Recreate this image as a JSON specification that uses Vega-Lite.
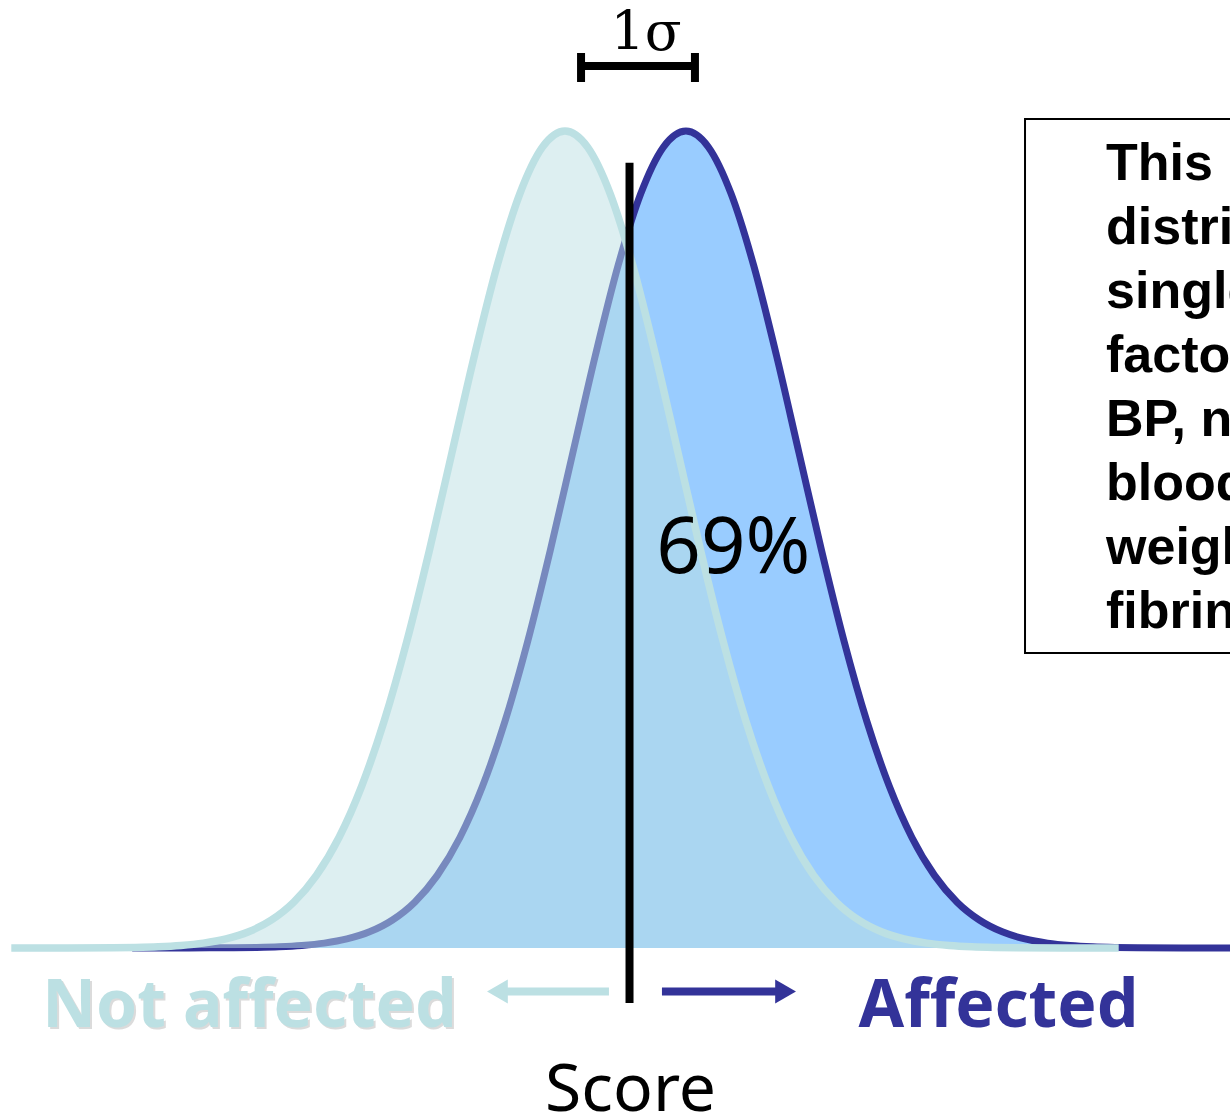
{
  "$schema": "https://vega.github.io/schema/vega-lite/v6.json",
  "autosize": {"type": "none"},
  "width": 1230,
  "height": 1117,
  "padding": 0,
  "background": "white",
  "config": {"view": {"stroke": null}},
  "datasets": {
    "curves": [
      {"group": "Not affected", "x": -4.9, "y": 0.0},
      {"group": "Not affected", "x": -4.4, "y": 0.0001},
      {"group": "Not affected", "x": -4.0, "y": 0.0003},
      {"group": "Not affected", "x": -3.8, "y": 0.0007},
      {"group": "Not affected", "x": -3.6, "y": 0.0015},
      {"group": "Not affected", "x": -3.4, "y": 0.0031},
      {"group": "Not affected", "x": -3.2, "y": 0.0060},
      {"group": "Not affected", "x": -3.0, "y": 0.0111},
      {"group": "Not affected", "x": -2.8, "y": 0.0198},
      {"group": "Not affected", "x": -2.6, "y": 0.0340},
      {"group": "Not affected", "x": -2.4, "y": 0.0561},
      {"group": "Not affected", "x": -2.2, "y": 0.0889},
      {"group": "Not affected", "x": -2.0, "y": 0.1353},
      {"group": "Not affected", "x": -1.8, "y": 0.1979},
      {"group": "Not affected", "x": -1.6, "y": 0.2780},
      {"group": "Not affected", "x": -1.4, "y": 0.3753},
      {"group": "Not affected", "x": -1.2, "y": 0.4868},
      {"group": "Not affected", "x": -1.0, "y": 0.6065},
      {"group": "Not affected", "x": -0.8, "y": 0.7261},
      {"group": "Not affected", "x": -0.6, "y": 0.8353},
      {"group": "Not affected", "x": -0.4, "y": 0.9231},
      {"group": "Not affected", "x": -0.2, "y": 0.9802},
      {"group": "Not affected", "x": 0.0, "y": 1.0},
      {"group": "Not affected", "x": 0.2, "y": 0.9802},
      {"group": "Not affected", "x": 0.4, "y": 0.9231},
      {"group": "Not affected", "x": 0.6, "y": 0.8353},
      {"group": "Not affected", "x": 0.8, "y": 0.7261},
      {"group": "Not affected", "x": 1.0, "y": 0.6065},
      {"group": "Not affected", "x": 1.2, "y": 0.4868},
      {"group": "Not affected", "x": 1.4, "y": 0.3753},
      {"group": "Not affected", "x": 1.6, "y": 0.2780},
      {"group": "Not affected", "x": 1.8, "y": 0.1979},
      {"group": "Not affected", "x": 2.0, "y": 0.1353},
      {"group": "Not affected", "x": 2.2, "y": 0.0889},
      {"group": "Not affected", "x": 2.4, "y": 0.0561},
      {"group": "Not affected", "x": 2.6, "y": 0.0340},
      {"group": "Not affected", "x": 2.8, "y": 0.0198},
      {"group": "Not affected", "x": 3.0, "y": 0.0111},
      {"group": "Not affected", "x": 3.2, "y": 0.0060},
      {"group": "Not affected", "x": 3.4, "y": 0.0031},
      {"group": "Not affected", "x": 3.6, "y": 0.0015},
      {"group": "Not affected", "x": 3.8, "y": 0.0007},
      {"group": "Not affected", "x": 4.0, "y": 0.0003},
      {"group": "Not affected", "x": 4.4, "y": 0.0001},
      {"group": "Not affected", "x": 4.9, "y": 0.0},
      {"group": "Affected", "x": -3.83, "y": 0.0},
      {"group": "Affected", "x": -3.33, "y": 0.0001},
      {"group": "Affected", "x": -2.93, "y": 0.0003},
      {"group": "Affected", "x": -2.73, "y": 0.0007},
      {"group": "Affected", "x": -2.53, "y": 0.0015},
      {"group": "Affected", "x": -2.33, "y": 0.0031},
      {"group": "Affected", "x": -2.13, "y": 0.0060},
      {"group": "Affected", "x": -1.93, "y": 0.0111},
      {"group": "Affected", "x": -1.73, "y": 0.0198},
      {"group": "Affected", "x": -1.53, "y": 0.0340},
      {"group": "Affected", "x": -1.33, "y": 0.0561},
      {"group": "Affected", "x": -1.13, "y": 0.0889},
      {"group": "Affected", "x": -0.93, "y": 0.1353},
      {"group": "Affected", "x": -0.73, "y": 0.1979},
      {"group": "Affected", "x": -0.53, "y": 0.2780},
      {"group": "Affected", "x": -0.33, "y": 0.3753},
      {"group": "Affected", "x": -0.13, "y": 0.4868},
      {"group": "Affected", "x": 0.07, "y": 0.6065},
      {"group": "Affected", "x": 0.27, "y": 0.7261},
      {"group": "Affected", "x": 0.47, "y": 0.8353},
      {"group": "Affected", "x": 0.67, "y": 0.9231},
      {"group": "Affected", "x": 0.87, "y": 0.9802},
      {"group": "Affected", "x": 1.07, "y": 1.0},
      {"group": "Affected", "x": 1.27, "y": 0.9802},
      {"group": "Affected", "x": 1.47, "y": 0.9231},
      {"group": "Affected", "x": 1.67, "y": 0.8353},
      {"group": "Affected", "x": 1.87, "y": 0.7261},
      {"group": "Affected", "x": 2.07, "y": 0.6065},
      {"group": "Affected", "x": 2.27, "y": 0.4868},
      {"group": "Affected", "x": 2.47, "y": 0.3753},
      {"group": "Affected", "x": 2.67, "y": 0.2780},
      {"group": "Affected", "x": 2.87, "y": 0.1979},
      {"group": "Affected", "x": 3.07, "y": 0.1353},
      {"group": "Affected", "x": 3.27, "y": 0.0889},
      {"group": "Affected", "x": 3.47, "y": 0.0561},
      {"group": "Affected", "x": 3.67, "y": 0.0340},
      {"group": "Affected", "x": 3.87, "y": 0.0198},
      {"group": "Affected", "x": 4.07, "y": 0.0111},
      {"group": "Affected", "x": 4.27, "y": 0.0060},
      {"group": "Affected", "x": 4.47, "y": 0.0031},
      {"group": "Affected", "x": 4.67, "y": 0.0015},
      {"group": "Affected", "x": 4.87, "y": 0.0007},
      {"group": "Affected", "x": 5.07, "y": 0.0003},
      {"group": "Affected", "x": 5.47, "y": 0.0001},
      {"group": "Affected", "x": 5.97, "y": 0.0}
    ],
    "one": [{}]
  },
  "layer": [
    {
      "data": {"name": "one"},
      "mark": {"type": "rect", "fill": "white", "stroke": "black", "strokeWidth": 2, "clip": true},
      "encoding": {
        "x": {"datum": 4.071, "type": "quantitative", "scale": {"domain": [-5.0, 5.885], "nice": false, "zero": false}, "axis": null},
        "x2": {"datum": 7.0},
        "y": {"datum": 1.0147, "type": "quantitative", "scale": {"domain": [-0.20685, 1.16034], "nice": false, "zero": false}, "axis": null},
        "y2": {"datum": 0.361}
      }
    },
    {
      "data": {"name": "one"},
      "mark": {"type": "text", "clip": true, "align": "left", "baseline": "alphabetic", "font": "Liberation Sans", "fontWeight": "bold", "fontSize": 52, "lineHeight": 64, "color": "black",
        "text": ["This", "distribution for a", "single risk", "factor e.g.", "BP, non-HDL", "blood glucose,", "weight,", "fibrinogen"]},
      "encoding": {"x": {"datum": 4.788}, "y": {"datum": 0.940}}
    },
    {
      "data": {"name": "curves"},
      "transform": [{"filter": "datum.group === 'Affected'"}],
      "mark": {"type": "area", "color": "#99CCFF", "opacity": 1, "interpolate": "monotone", "clip": true},
      "encoding": {
        "x": {"field": "x", "type": "quantitative"},
        "y": {"field": "y", "type": "quantitative"}
      }
    },
    {
      "data": {"name": "curves"},
      "transform": [{"filter": "datum.group === 'Affected'"}],
      "mark": {"type": "line", "color": "#333399", "strokeWidth": 7, "interpolate": "monotone", "clip": true},
      "encoding": {
        "x": {"field": "x", "type": "quantitative"},
        "y": {"field": "y", "type": "quantitative"}
      }
    },
    {
      "data": {"name": "curves"},
      "transform": [{"filter": "datum.group === 'Not affected'"}],
      "mark": {"type": "area", "color": "#BCE0E3", "opacity": 0.5, "interpolate": "monotone", "clip": true},
      "encoding": {
        "x": {"field": "x", "type": "quantitative"},
        "y": {"field": "y", "type": "quantitative"}
      }
    },
    {
      "data": {"name": "curves"},
      "transform": [{"filter": "datum.group === 'Not affected'"}],
      "mark": {"type": "line", "color": "#BCE0E3", "strokeWidth": 7.5, "interpolate": "monotone", "clip": true},
      "encoding": {
        "x": {"field": "x", "type": "quantitative"},
        "y": {"field": "y", "type": "quantitative"}
      }
    },
    {
      "data": {"name": "one"},
      "mark": {"type": "rule", "color": "black", "strokeWidth": 8},
      "encoding": {"x": {"datum": 0.571}, "y": {"datum": 0.961}, "y2": {"datum": -0.0673}}
    },
    {
      "data": {"name": "one"},
      "mark": {"type": "text", "text": "69%", "font": "Noto Sans", "fontSize": 78, "align": "center", "baseline": "alphabetic", "color": "black"},
      "encoding": {"x": {"datum": 1.49}, "y": {"datum": 0.459}}
    },
    {
      "data": {"name": "one"},
      "mark": {"type": "rule", "color": "black", "strokeWidth": 8},
      "encoding": {"x": {"datum": 0.142}, "x2": {"datum": 1.15}, "y": {"datum": 1.0796}}
    },
    {
      "data": {"name": "one"},
      "mark": {"type": "rule", "color": "black", "strokeWidth": 8},
      "encoding": {"x": {"datum": 0.142}, "y": {"datum": 1.0955}, "y2": {"datum": 1.060}}
    },
    {
      "data": {"name": "one"},
      "mark": {"type": "rule", "color": "black", "strokeWidth": 8},
      "encoding": {"x": {"datum": 1.15}, "y": {"datum": 1.0955}, "y2": {"datum": 1.060}}
    },
    {
      "data": {"name": "one"},
      "mark": {"type": "text", "text": "1σ", "font": "DejaVu Serif", "fontSize": 54, "align": "center", "baseline": "alphabetic", "color": "black"},
      "encoding": {"x": {"datum": 0.717}, "y": {"datum": 1.099}}
    },
    {
      "data": {"name": "one"},
      "mark": {"type": "rule", "color": "#BCE0E3", "strokeWidth": 8},
      "encoding": {"x": {"datum": -0.513}, "x2": {"datum": 0.389}, "y": {"datum": -0.0532}}
    },
    {
      "data": {"name": "one"},
      "mark": {"type": "point", "shape": "triangle-left", "filled": true, "size": 576, "color": "#BCE0E3", "opacity": 1},
      "encoding": {"x": {"datum": -0.598}, "y": {"datum": -0.0532}}
    },
    {
      "data": {"name": "one"},
      "mark": {"type": "rule", "color": "#333399", "strokeWidth": 8},
      "encoding": {"x": {"datum": 0.858}, "x2": {"datum": 1.867}, "y": {"datum": -0.0532}}
    },
    {
      "data": {"name": "one"},
      "mark": {"type": "point", "shape": "triangle-right", "filled": true, "size": 576, "color": "#333399", "opacity": 1},
      "encoding": {"x": {"datum": 1.952}, "y": {"datum": -0.0532}}
    },
    {
      "data": {"name": "one"},
      "mark": {"type": "text", "text": "Not affected", "font": "Noto Sans", "fontWeight": "bold", "fontSize": 66, "align": "center", "baseline": "alphabetic", "color": "#B0B0B0", "opacity": 0.45, "dx": 2, "dy": 2},
      "encoding": {"x": {"datum": -2.792}, "y": {"datum": -0.0967}}
    },
    {
      "data": {"name": "one"},
      "mark": {"type": "text", "text": "Not affected", "font": "Noto Sans", "fontWeight": "bold", "fontSize": 66, "align": "center", "baseline": "alphabetic", "color": "#BCE0E3"},
      "encoding": {"x": {"datum": -2.792}, "y": {"datum": -0.0967}}
    },
    {
      "data": {"name": "one"},
      "mark": {"type": "text", "text": "Affected", "font": "Noto Sans", "fontWeight": "bold", "fontSize": 66, "align": "center", "baseline": "alphabetic", "color": "#333399"},
      "encoding": {"x": {"datum": 3.836}, "y": {"datum": -0.0967}}
    },
    {
      "data": {"name": "one"},
      "mark": {"type": "text", "text": "Score", "font": "Noto Sans", "fontSize": 66, "align": "center", "baseline": "alphabetic", "color": "black"},
      "encoding": {"x": {"datum": 0.58}, "y": {"datum": -0.1995}}
    }
  ]
}
